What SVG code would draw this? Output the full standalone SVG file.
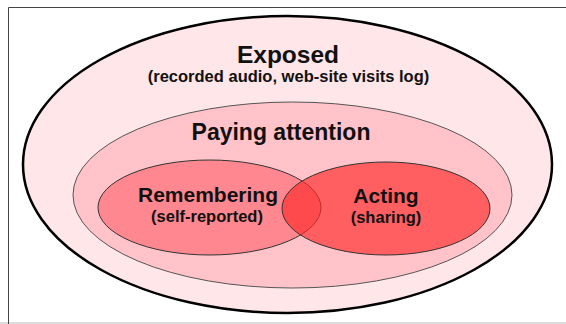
<svg xmlns="http://www.w3.org/2000/svg" width="566" height="324" viewBox="0 0 566 324">
<style>
text{font-family:"Liberation Sans",Arial,sans-serif;font-weight:bold;fill:#111;text-anchor:middle}
.t{font-size:24.5px}.m{font-size:23px}.n{font-size:21px}.s{font-size:16.5px}
</style>
<rect x="0" y="0" width="566" height="324" fill="#fff"/>
<rect x="0" y="322" width="566" height="2" fill="#ddd"/>
<path d="M8.5 324 V7.5 H566" fill="none" stroke="#444" stroke-width="1"/>
<g id="exposed">
<ellipse cx="287.5" cy="164.5" rx="264.5" ry="148.5" fill="#FFE6E8" stroke="#000" stroke-width="2.5"/>
<text class="t" x="288" y="63">Exposed</text>
<text class="s" x="288.5" y="82">(recorded audio, web-site visits log)</text>
</g>
<g id="paying-attention">
<ellipse cx="292.5" cy="195" rx="219.5" ry="93" fill="#FFC3C9" stroke="#555" stroke-width="1"/>
<text class="m" x="281" y="140">Paying attention</text>
</g>
<g id="remembering">
<ellipse cx="209.5" cy="207.5" rx="111.5" ry="47.5" fill="#FF8890" stroke="#333" stroke-width="1"/>
<text class="n" x="208" y="202">Remembering</text>
<text class="s" x="207" y="222">(self-reported)</text>
</g>
<g id="acting">
<ellipse cx="386" cy="208.5" rx="104" ry="46.5" fill="#FF2A2A" fill-opacity="0.66" stroke="#333" stroke-width="1"/>
<text class="n" x="386" y="203">Acting</text>
<text class="s" x="386" y="223">(sharing)</text>
</g>
<g id="connectors"/>
</svg>
